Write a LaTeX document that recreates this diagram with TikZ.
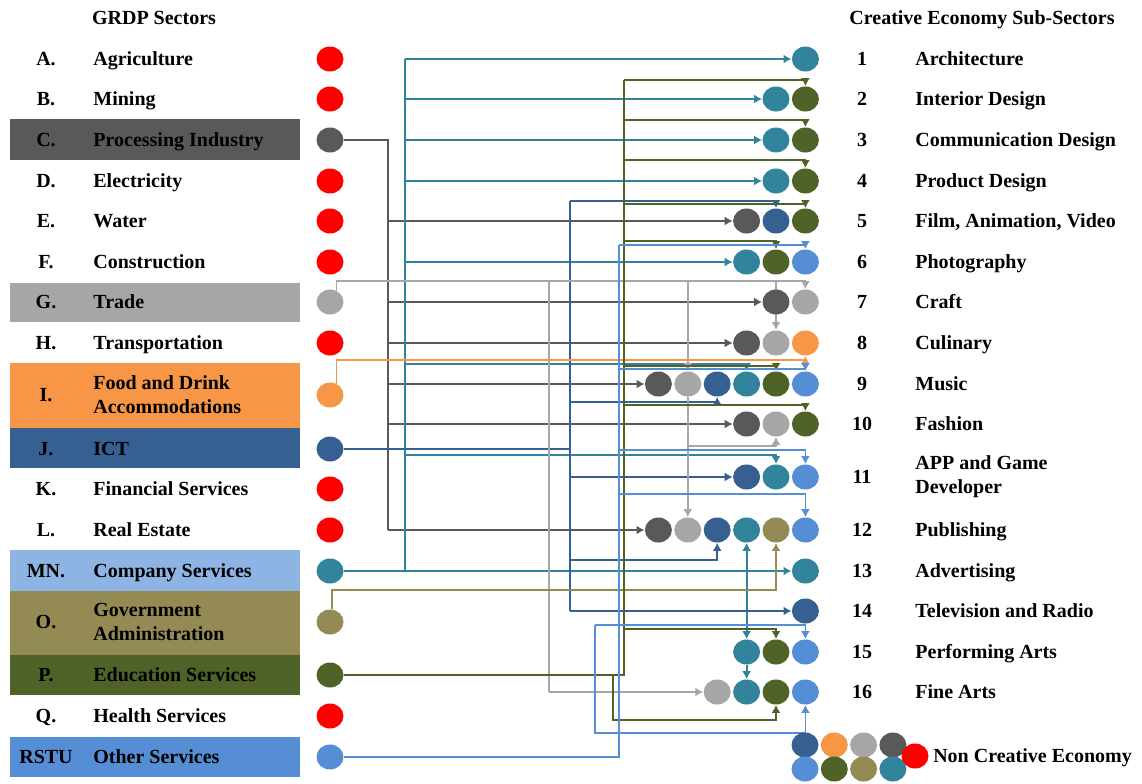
\documentclass[tikz,border=0pt]{standalone}
\usepackage{fontspec}
\setmainfont{Liberation Serif}
\usetikzlibrary{positioning}
\usetikzlibrary{shapes.geometric}
\usetikzlibrary{arrows.meta}
\pgfdeclarelayer{bg}
\pgfsetlayers{bg,main}
\definecolor{cRed}{HTML}{FF0000}
\definecolor{cDGray}{HTML}{595959}
\definecolor{cLGray}{HTML}{A6A6A6}
\definecolor{cOrange}{HTML}{F79646}
\definecolor{cDBlue}{HTML}{366092}
\definecolor{cTeal}{HTML}{31849B}
\definecolor{cOlive}{HTML}{948A54}
\definecolor{cGreen}{HTML}{4F6228}
\definecolor{cLBlue}{HTML}{558ED5}
\definecolor{cBand}{HTML}{8DB4E2}

\begin{document}
\begin{tikzpicture}[x=0.5pt,y=-0.5pt,>={Latex[length=4pt,width=4.5pt]},
  sdot/.style={ellipse,inner sep=0pt,minimum width=13.5pt,minimum height=12.5pt,fill=#1},
  labm/.style={font=\bfseries,anchor=west,align=left,inner sep=0pt},
  lab/.style={font=\bfseries,anchor=west,inner sep=0pt,text height=6.8pt,text depth=0pt},
  num/.style={font=\bfseries,inner sep=0pt,text height=6.8pt,text depth=0pt},
  link/.style={draw=#1,line width=0.9pt}]
\useasboundingbox (0,0) rectangle (1142,783);

\node[num] (hl) at (154,18) {GRDP Sectors};
\node[num] (hr) at (982,18) {Creative Economy Sub-Sectors};

% coloured bands of the left column
\fill[cDGray] (10,119) rectangle (300,160);
\fill[cLGray] (10,283) rectangle (300,322);
\fill[cOrange] (10,363) rectangle (300,428);
\fill[cDBlue] (10,428) rectangle (300,468);
\fill[cBand] (10,550) rectangle (300,591);
\fill[cOlive] (10,591) rectangle (300,655);
\fill[cGreen] (10,655) rectangle (300,695);
\fill[cLBlue] (10,737) rectangle (300,777);

\foreach \sx/\ltr/\yy/\col in {A/A./59/cRed, B/B./99/cRed, C/C./140/cDGray, D/D./181/cRed,
    E/E./221/cRed, F/F./262/cRed, G/G./302/cLGray, H/H./343/cRed, I/I./395/cOrange,
    J/J./449/cDBlue, K/K./489/cRed, L/L./530/cRed, MN/MN./571/cTeal, O/O./622/cOlive,
    P/P./675/cGreen, Q/Q./716/cRed, RSTU/RSTU/757/cLBlue}{
  \node[num] (l\sx) at (46,\yy) {\ltr};
  \node[sdot=\col] (s\sx) at (330,\yy) {};
}
\foreach \sx/\txt in {A/Agriculture, B/Mining, C/Processing Industry, D/Electricity,
    E/Water, F/Construction, G/Trade, H/Transportation, J/ICT, K/Financial Services,
    L/Real Estate, MN/Company Services, P/Education Services, Q/Health Services,
    RSTU/Other Services}
  \node[lab] (n\sx) at (93,0 |- l\sx) {\txt};
\node[labm] (nI) at (93,395) {Food and Drink\\Accommodations};
\node[labm] (nO) at (93,622) {Government\\Administration};

\foreach \row/\yy/\txt in {1/59/Architecture, 2/99/Interior Design, 3/140/Communication Design,
    4/181/Product Design, 5/221/{Film, Animation, Video}, 6/262/Photography, 7/302/Craft,
    8/343/Culinary, 9/384/Music, 10/424/Fashion, 12/530/Publishing, 13/571/Advertising,
    14/611/Television and Radio, 15/652/Performing Arts, 16/692/Fine Arts}{
  \node[num] (r\row) at (862,\yy) {\row};
  \node[lab] (rn\row) at (915,\yy) {\txt};
}
\node[num] (r11) at (862,477) {11};
\node[labm] (rn11) at (915,477) {APP and Game\\Developer};

% dots of the sub-sectors, column 1..6
\foreach \row/\cc/\col in {1/6/cTeal, 2/5/cTeal, 2/6/cGreen, 3/5/cTeal, 3/6/cGreen,
    4/5/cTeal, 4/6/cGreen, 5/4/cDGray, 5/5/cDBlue, 5/6/cGreen,
    6/4/cTeal, 6/5/cGreen, 6/6/cLBlue, 7/5/cDGray, 7/6/cLGray,
    8/4/cDGray, 8/5/cLGray, 8/6/cOrange,
    9/1/cDGray, 9/2/cLGray, 9/3/cDBlue, 9/4/cTeal, 9/5/cGreen, 9/6/cLBlue,
    10/4/cDGray, 10/5/cLGray, 10/6/cGreen, 11/4/cDBlue, 11/5/cTeal, 11/6/cLBlue,
    12/1/cDGray, 12/2/cLGray, 12/3/cDBlue, 12/4/cTeal, 12/5/cOlive, 12/6/cLBlue,
    13/6/cTeal, 14/6/cDBlue, 15/4/cTeal, 15/5/cGreen, 15/6/cLBlue,
    16/3/cLGray, 16/4/cTeal, 16/5/cGreen, 16/6/cLBlue}
  \path (r\row) ++({29.4*\cc-233},0) node[sdot=\col] (t\row-\cc) {};

% non creative economy
\foreach \i/\col in {0/cDBlue,1/cOrange,2/cLGray,3/cDGray}
  \node[sdot=\col] (nu\i) at ({805+29.3*\i},745) {};
\foreach \i/\col in {0/cLBlue,1/cGreen,2/cOlive,3/cTeal}
  \node[sdot=\col] (nl\i) at ({805+29.3*\i},769) {};
\node[sdot=cRed] (nred) at (915,756) {};
\node[lab, right=2pt of nred.east] (nce) {Non Creative Economy};

\begin{pgfonlayer}{bg}
% Processing Industry
\coordinate (jC) at (388,140);
\draw[link=cDGray] (sC) -- (jC) -- (jC |- t12-1);
\foreach \tt in {5-4,7-5,8-4,9-1,10-4,12-1}
  \draw[link=cDGray,->] (jC |- t\tt) -- (t\tt);

% Company Services
\coordinate (jM) at (405,571);
\draw[link=cTeal,->] (sMN) -- (t13-6);
\draw[link=cTeal] (jM) -- (jM |- t1-6);
\foreach \tt in {1-6,2-5,3-5,4-5,6-4}
  \draw[link=cTeal,->] (jM |- t\tt) -- (t\tt);
\draw[link=cTeal,->] (jM |- 0,364) -| (t9-4);
\draw[link=cTeal,->] (jM |- 0,455) -| (t11-5);
\draw[link=cTeal,->] (t12-4 |- jM) -- (t12-4);
\draw[link=cTeal,->] (t12-4 |- jM) -- (t15-4);
\draw[link=cTeal,->] (t15-4) -- (t16-4);

% ICT
\coordinate (jJ) at (570,449);
\draw[link=cDBlue] (sJ) -- (jJ);
\draw[link=cDBlue] (jJ |- 0,201) -- (jJ |- t14-6);
\draw[link=cDBlue,->] (jJ |- 0,201) -| (t5-5);
\draw[link=cDBlue,->] (jJ |- 0,402) -| (t9-3);
\draw[link=cDBlue,->] (jJ |- t11-4) -- (t11-4);
\draw[link=cDBlue,->] (jJ |- 0,560) -| (t12-3);
\draw[link=cDBlue,->] (jJ |- t14-6) -- (t14-6);

% Trade
\coordinate (jG) at (549,281);
\draw[link=cLGray] (sG.60) |- (jG);
\draw[link=cLGray,->] (jG) -| (t7-6);
\draw[link=cLGray,->] (jG -| t8-5) -- (t8-5);
\draw[link=cLGray,->] (jG -| t9-2) -- (t9-2);
\draw[link=cLGray,->] (t9-2) -- (t12-2);
\draw[link=cLGray,->] (t9-2 |- 0,446) -| (t10-5);
\draw[link=cLGray] (jG) -- (jG |- t16-3);
\draw[link=cLGray,->] (jG |- t16-3) -- (t16-3);

% Food and Drink
\draw[link=cOrange,->] (sI.60) |- (t8-6 |- 0,360) -- (t8-6);

% Government Administration
\draw[link=cOlive,->] (sO.80) |- (t12-5 |- 0,590) -- (t12-5);

% Education Services
\coordinate (jP) at (624,675);
\coordinate (jP2) at (613,675);
\draw[link=cGreen] (sP) -- (jP) -- (jP |- 0,80);
\foreach \yy/\tt in {80/2-6,120/3-6,160/4-6,204/5-6,241/6-5,366/9-5,405/10-6,629/15-5}
  \draw[link=cGreen,->] (jP |- 0,\yy) -| (t\tt);
\draw[link=cGreen,->] (jP2) |- (t16-5 |- 0,720) -- (t16-5);

% Other Services
\coordinate (jR) at (619,757);
\coordinate (jR2) at (595,625);
\draw[link=cLBlue] (sRSTU) -- (jR) -- (jR |- 0,245);
\foreach \yy/\tt in {245/6-6,369/9-6,450/11-6,494/12-6}
  \draw[link=cLBlue,->] (jR |- 0,\yy) -| (t\tt);
\draw[link=cLBlue,->] (jR2) -| (t15-6);
\draw[link=cLBlue,->] (jR2) |- (t16-6 |- 0,733) -- (t16-6);
\end{pgfonlayer}
\end{tikzpicture}
\end{document}
